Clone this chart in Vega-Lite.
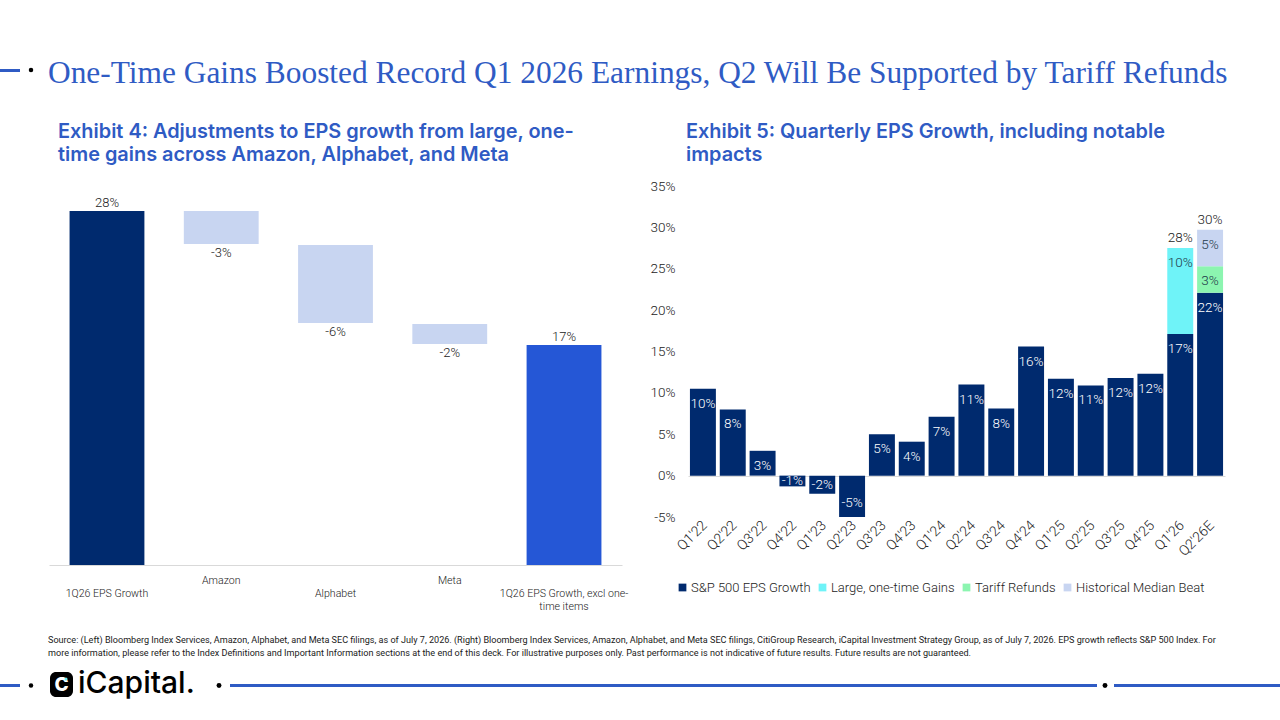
{
  "$schema": "https://vega.github.io/schema/vega-lite/v6.json",
  "padding": 0,
  "background": "white",
  "bounds": "full",
  "spacing": 0,
  "config": {
    "view": {"stroke": null},
    "font": "Roboto",
    "text": {"font": "Roboto", "fontWeight": 300},
    "title": {"font": "Inter"}
  },
  "datasets": {
    "steps": [
      {"step": "1Q26 EPS Growth", "start": 0, "end": 27.7, "label": "28%", "kind": "Reported"},
      {"step": "Amazon", "start": 27.7, "end": 25.12, "label": "-3%", "kind": "Adjustment"},
      {"step": "Alphabet", "start": 25.04, "end": 18.94, "label": "-6%", "kind": "Adjustment"},
      {"step": "Meta", "start": 18.86, "end": 17.29, "label": "-2%", "kind": "Adjustment"},
      {"step": "1Q26 EPS Growth, excl one-time items", "start": 0, "end": 17.21, "label": "17%", "kind": "Adjusted"}
    ],
    "quarters": [
      {"quarter": "Q1'22", "series": "S&P 500 EPS Growth", "value": 10.5, "label": "10%", "order": 1},
      {"quarter": "Q2'22", "series": "S&P 500 EPS Growth", "value": 8, "label": "8%", "order": 1},
      {"quarter": "Q3'22", "series": "S&P 500 EPS Growth", "value": 3, "label": "3%", "order": 1},
      {"quarter": "Q4'22", "series": "S&P 500 EPS Growth", "value": -1.3, "label": "-1%", "order": 1},
      {"quarter": "Q1'23", "series": "S&P 500 EPS Growth", "value": -2.2, "label": "-2%", "order": 1},
      {"quarter": "Q2'23", "series": "S&P 500 EPS Growth", "value": -5, "label": "-5%", "order": 1},
      {"quarter": "Q3'23", "series": "S&P 500 EPS Growth", "value": 5, "label": "5%", "order": 1},
      {"quarter": "Q4'23", "series": "S&P 500 EPS Growth", "value": 4.1, "label": "4%", "order": 1},
      {"quarter": "Q1'24", "series": "S&P 500 EPS Growth", "value": 7.1, "label": "7%", "order": 1},
      {"quarter": "Q2'24", "series": "S&P 500 EPS Growth", "value": 11, "label": "11%", "order": 1},
      {"quarter": "Q3'24", "series": "S&P 500 EPS Growth", "value": 8.1, "label": "8%", "order": 1},
      {"quarter": "Q4'24", "series": "S&P 500 EPS Growth", "value": 15.6, "label": "16%", "order": 1},
      {"quarter": "Q1'25", "series": "S&P 500 EPS Growth", "value": 11.7, "label": "12%", "order": 1},
      {"quarter": "Q2'25", "series": "S&P 500 EPS Growth", "value": 10.9, "label": "11%", "order": 1},
      {"quarter": "Q3'25", "series": "S&P 500 EPS Growth", "value": 11.8, "label": "12%", "order": 1},
      {"quarter": "Q4'25", "series": "S&P 500 EPS Growth", "value": 12.3, "label": "12%", "order": 1},
      {"quarter": "Q1'26", "series": "S&P 500 EPS Growth", "value": 17.1, "label": "17%", "order": 1},
      {"quarter": "Q1'26", "series": "Large, one-time Gains", "value": 10.4, "label": "10%", "order": 2},
      {"quarter": "Q2'26E", "series": "S&P 500 EPS Growth", "value": 22.1, "label": "22%", "order": 1},
      {"quarter": "Q2'26E", "series": "Tariff Refunds", "value": 3.2, "label": "3%", "order": 3},
      {"quarter": "Q2'26E", "series": "Historical Median Beat", "value": 4.4, "label": "5%", "order": 4}
    ],
    "totals": [
      {"quarter": "Q1'26", "total": 27.5, "label": "28%"},
      {"quarter": "Q2'26E", "total": 29.7, "label": "30%"}
    ]
  },
  "vconcat": [
    {
      "width": 1280,
      "height": 122,
      "data": {"values": [{"headline": "One-Time Gains Boosted Record Q1 2026 Earnings, Q2 Will Be Supported by Tariff Refunds"}]},
      "encoding": {
        "x": {"datum": 0, "scale": {"domain": [0, 1280]}, "axis": null},
        "y": {"datum": 70, "scale": {"domain": [122, 0]}, "axis": null}
      },
      "layer": [
        {
          "mark": {"type": "rect", "color": "#2F5BC4"},
          "encoding": {"x": {"datum": 0}, "x2": {"datum": 20}, "y": {"datum": 69}, "y2": {"datum": 72}}
        },
        {
          "mark": {"type": "point", "filled": true, "color": "#000000", "size": 20, "opacity": 1},
          "encoding": {"x": {"datum": 31}}
        },
        {
          "mark": {"type": "text", "font": "Liberation Serif", "fontWeight": 400, "fontSize": 31.4, "color": "#2F5BC4", "align": "left", "baseline": "alphabetic"},
          "encoding": {"x": {"datum": 48}, "y": {"datum": 83}, "text": {"field": "headline"}}
        }
      ]
    },
    {
      "bounds": "flush",
      "spacing": 0,
      "resolve": {"scale": {"color": "independent"}, "legend": {"color": "independent"}},
      "hconcat": [
        {"width": 49, "height": 10, "data": {"values": []}, "mark": "point"},
        {
          "width": 573,
          "height": 379,
          "title": {
            "text": ["Exhibit 4: Adjustments to EPS growth from large, one-", "time gains across Amazon, Alphabet, and Meta"],
            "anchor": "start",
            "frame": "group",
            "dx": 9,
            "offset": 21,
            "font": "Inter",
            "fontSize": 19.9,
            "fontWeight": 600,
            "lineHeight": 23,
            "color": "#2F5BC4"
          },
          "data": {"name": "steps"},
          "encoding": {
            "x": {
              "field": "step",
              "type": "nominal",
              "sort": null,
              "title": null,
              "scale": {"paddingInner": 0.345, "paddingOuter": 0.18},
              "axis": {
                "domainColor": "#D9D9D9",
                "ticks": false,
                "labelAngle": 0,
                "labelAlign": "center",
                "labelBaseline": "top",
                "labelPadding": 10,
                "labelFont": "Roboto",
                "labelFontWeight": 300,
                "labelFontSize": 10.6,
                "labelColor": "#222222",
                "labelLineHeight": 13,
                "labelLimit": 0,
                "labelExpr": "datum.value == 'Amazon' || datum.value == 'Meta' ? datum.value : datum.value == '1Q26 EPS Growth, excl one-time items' ? ['', '1Q26 EPS Growth, excl one-', 'time items'] : ['', datum.value]"
              }
            }
          },
          "layer": [
            {
              "mark": {"type": "bar"},
              "encoding": {
                "y": {"field": "start", "type": "quantitative", "scale": {"domain": [0, 29.66], "nice": false}, "axis": null},
                "y2": {"field": "end"},
                "color": {
                  "field": "kind",
                  "type": "nominal",
                  "legend": null,
                  "scale": {"domain": ["Reported", "Adjustment", "Adjusted"], "range": ["#002A6E", "#C8D5F1", "#2557D6"]}
                }
              }
            },
            {
              "transform": [{"filter": "datum.kind != 'Adjustment'"}],
              "mark": {"type": "text", "baseline": "bottom", "dy": -1, "fontSize": 13, "color": "#222222"},
              "encoding": {
                "y": {"field": "end", "type": "quantitative"},
                "text": {"field": "label"}
              }
            },
            {
              "transform": [{"filter": "datum.kind == 'Adjustment'"}],
              "mark": {"type": "text", "baseline": "top", "dy": 3, "fontSize": 13, "color": "#222222"},
              "encoding": {
                "y": {"field": "end", "type": "quantitative"},
                "text": {"field": "label"}
              }
            }
          ]
        },
        {"width": 66, "height": 10, "data": {"values": []}, "mark": "point"},
        {
          "width": 537,
          "height": 331,
          "title": {
            "text": ["Exhibit 5: Quarterly EPS Growth, including notable", "impacts"],
            "anchor": "start",
            "frame": "group",
            "dx": -2,
            "offset": 14,
            "font": "Inter",
            "fontSize": 19.85,
            "fontWeight": 600,
            "lineHeight": 23,
            "color": "#2F5BC4"
          },
          "encoding": {
            "x": {
              "field": "quarter",
              "type": "nominal",
              "sort": null,
              "title": null,
              "scale": {"paddingInner": 0.13, "paddingOuter": 0.065},
              "axis": {
                "domain": false,
                "ticks": false,
                "labelAngle": -45,
                "labelAlign": "right",
                "labelBaseline": "middle",
                "labelPadding": 6,
                "labelOffset": 2,
                "labelFont": "Roboto",
                "labelFontWeight": 300,
                "labelFontSize": 14,
                "labelColor": "#222222"
              }
            }
          },
          "layer": [
            {
              "data": {"name": "quarters"},
              "transform": [
                {"stack": "value", "groupby": ["quarter"], "sort": [{"field": "order"}], "as": ["v0", "v1"]}
              ],
              "layer": [
                {
                  "mark": {"type": "bar"},
                  "encoding": {
                    "y": {
                      "field": "v0",
                      "type": "quantitative",
                      "title": null,
                      "scale": {"domain": [-5, 35], "nice": false},
                      "axis": {
                        "domain": false,
                        "ticks": false,
                        "grid": true,
                        "gridColor": {"condition": {"test": "datum.value === 0", "value": "#D9D9D9"}, "value": "transparent"},
                        "values": [-5, 0, 5, 10, 15, 20, 25, 30, 35],
                        "labelExpr": "datum.value + '%'",
                        "labelPadding": 13,
                        "labelFont": "Roboto",
                        "labelFontWeight": 300,
                        "labelFontSize": 13.5,
                        "labelColor": "#222222"
                      }
                    },
                    "y2": {"field": "v1"},
                    "color": {
                      "field": "series",
                      "type": "nominal",
                      "title": null,
                      "scale": {
                        "domain": ["S&P 500 EPS Growth", "Large, one-time Gains", "Tariff Refunds", "Historical Median Beat"],
                        "range": ["#002A6E", "#6FF3F8", "#8CF5B0", "#C8D5F1"]
                      },
                      "legend": {
                        "orient": "none",
                        "legendX": -12,
                        "legendY": 395,
                        "direction": "horizontal",
                        "columns": 4,
                        "gridAlign": "none",
                        "symbolType": "square",
                        "symbolSize": 60,
                        "symbolStrokeWidth": 0,
                        "columnPadding": 5,
                        "labelOffset": 2,
                        "labelFont": "Roboto",
                        "labelFontWeight": 300,
                        "labelFontSize": 13,
                        "labelColor": "#222222",
                        "labelLimit": 0
                      }
                    }
                  }
                },
                {
                  "transform": [{"filter": "datum.value > 0"}],
                  "mark": {"type": "text", "baseline": "middle", "dy": 15, "fontSize": 13.5},
                  "encoding": {
                    "y": {"field": "v1", "type": "quantitative"},
                    "text": {"field": "label"},
                    "color": {"condition": {"test": "datum.series == 'S&P 500 EPS Growth'", "value": "#FFFFFF"}, "value": "#1F3A4A"}
                  }
                },
                {
                  "transform": [{"filter": "datum.value < 0 && datum.value > -3"}, {"calculate": "datum.value / 2", "as": "middle"}],
                  "mark": {"type": "text", "baseline": "middle", "fontSize": 13.5, "color": "#FFFFFF"},
                  "encoding": {
                    "y": {"field": "middle", "type": "quantitative"},
                    "text": {"field": "label"}
                  }
                },
                {
                  "transform": [{"filter": "datum.value <= -3"}],
                  "mark": {"type": "text", "baseline": "middle", "dy": -14, "fontSize": 13.5, "color": "#FFFFFF"},
                  "encoding": {
                    "y": {"field": "v1", "type": "quantitative"},
                    "text": {"field": "label"}
                  }
                }
              ]
            },
            {
              "data": {"name": "totals"},
              "mark": {"type": "text", "baseline": "bottom", "dy": -3, "fontSize": 13.5, "color": "#222222"},
              "encoding": {
                "y": {"field": "total", "type": "quantitative"},
                "text": {"field": "label"}
              }
            }
          ]
        }
      ]
    },
    {
      "width": 1280,
      "height": 108,
      "data": {"values": [{
        "note": "Source: (Left) Bloomberg Index Services, Amazon, Alphabet, and Meta SEC filings, as of July 7, 2026. (Right) Bloomberg Index Services, Amazon, Alphabet, and Meta SEC filings, CitiGroup Research, iCapital Investment Strategy Group, as of July 7, 2026. EPS growth reflects S&P 500 Index. For\nmore information, please refer to the Index Definitions and Important Information sections at the end of this deck. For illustrative purposes only. Past performance is not indicative of future results. Future results are not guaranteed.",
        "brand": "iCapital."
      }]},
      "encoding": {
        "x": {"datum": 0, "scale": {"domain": [0, 1280]}, "axis": null},
        "y": {"datum": 73.5, "scale": {"domain": [108, 0]}, "axis": null}
      },
      "layer": [
        {
          "mark": {"type": "text", "font": "Roboto", "fontWeight": 400, "fontSize": 9.08, "color": "#1A1A1A", "align": "left", "baseline": "middle", "lineBreak": "\n", "lineHeight": 13},
          "encoding": {"x": {"datum": 48}, "y": {"datum": 28}, "text": {"field": "note"}}
        },
        {"mark": {"type": "rect", "color": "#2F5BC4"}, "encoding": {"x": {"datum": 0}, "x2": {"datum": 20}, "y": {"datum": 72}, "y2": {"datum": 75}}},
        {"mark": {"type": "rect", "color": "#2F5BC4"}, "encoding": {"x": {"datum": 230}, "x2": {"datum": 1097}, "y": {"datum": 72}, "y2": {"datum": 75}}},
        {"mark": {"type": "rect", "color": "#2F5BC4"}, "encoding": {"x": {"datum": 1114}, "x2": {"datum": 1280}, "y": {"datum": 72}, "y2": {"datum": 75}}},
        {"mark": {"type": "point", "filled": true, "color": "#000000", "size": 20, "opacity": 1}, "encoding": {"x": {"datum": 31}}},
        {"mark": {"type": "point", "filled": true, "color": "#000000", "size": 24, "opacity": 1}, "encoding": {"x": {"datum": 219}}},
        {"mark": {"type": "point", "filled": true, "color": "#000000", "size": 24, "opacity": 1}, "encoding": {"x": {"datum": 1105}}},
        {
          "mark": {"type": "rect", "color": "#000000", "cornerRadius": 6},
          "encoding": {"x": {"datum": 50}, "x2": {"datum": 73}, "y": {"datum": 60}, "y2": {"datum": 85}}
        },
        {
          "mark": {"type": "text", "font": "Inter", "fontWeight": 800, "fontSize": 19, "color": "#FFFFFF", "text": "C", "baseline": "middle"},
          "encoding": {"x": {"datum": 61.5}, "y": {"datum": 72.5}}
        },
        {
          "mark": {"type": "point", "filled": true, "color": "#6FF3F8", "size": 9, "opacity": 1},
          "encoding": {"x": {"datum": 66}, "y": {"datum": 67}}
        },
        {
          "mark": {"type": "text", "font": "Inter", "fontWeight": 500, "fontSize": 30, "color": "#000000", "align": "left", "baseline": "middle"},
          "encoding": {"x": {"datum": 78}, "y": {"datum": 72}, "text": {"field": "brand"}}
        }
      ]
    }
  ]
}
